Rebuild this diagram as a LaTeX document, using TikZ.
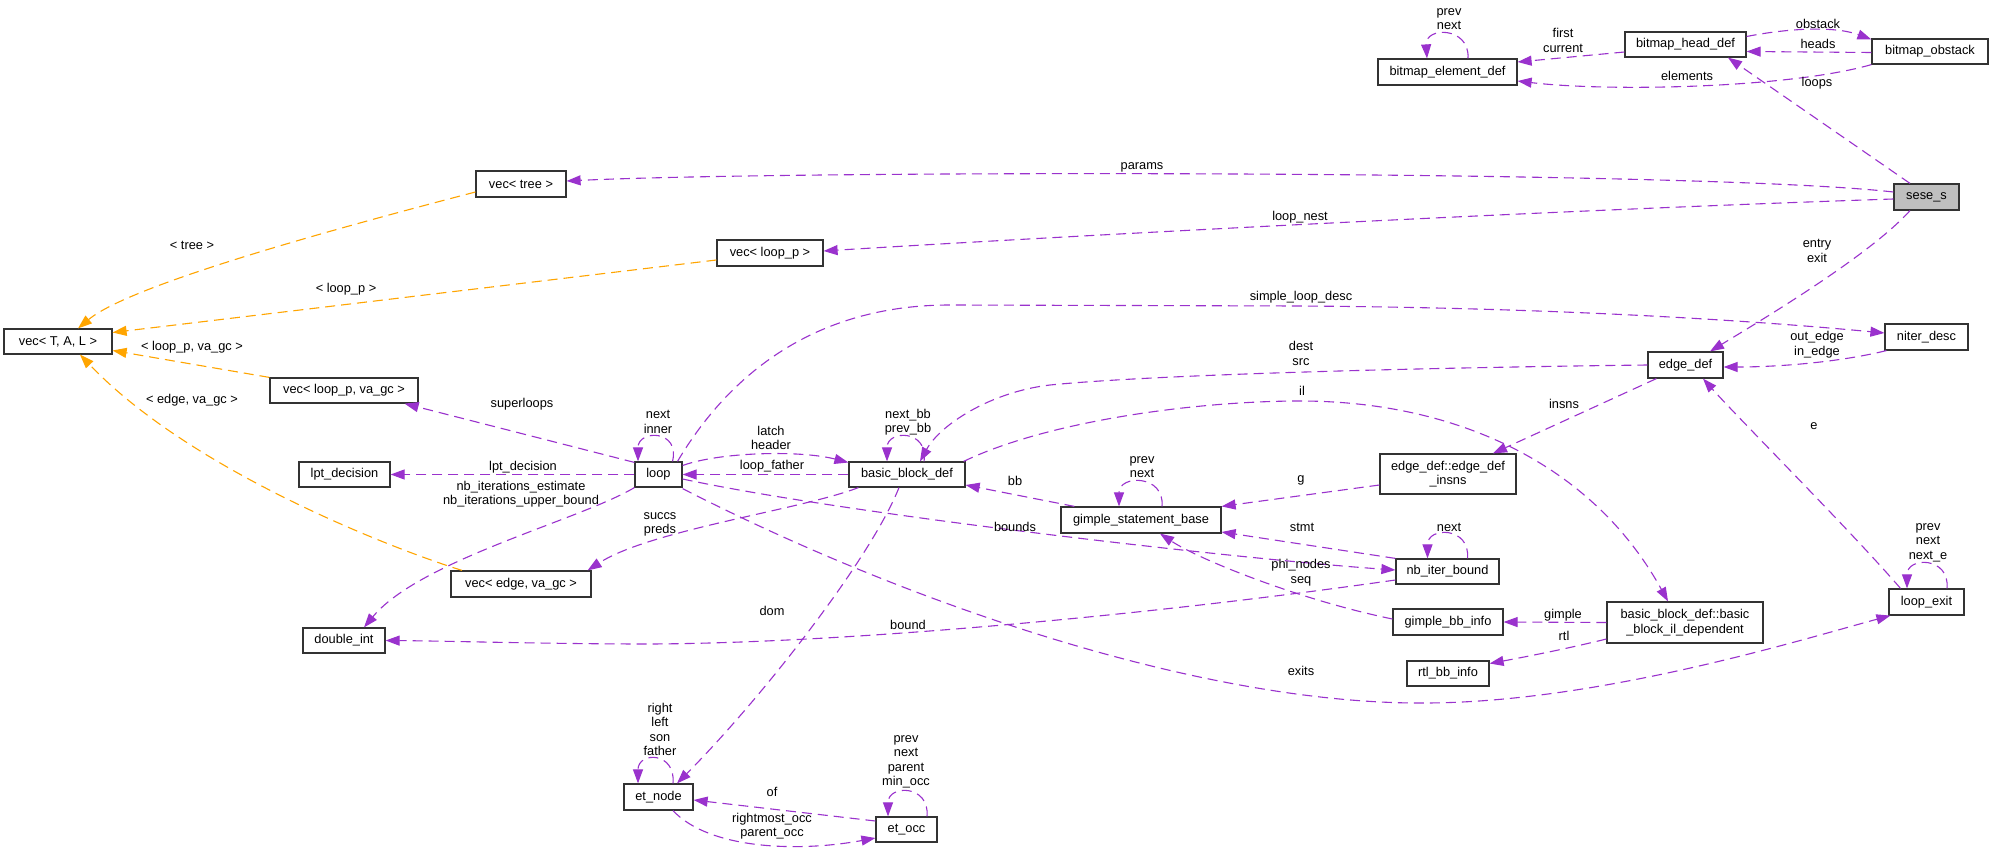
\documentclass[tikz,border=0pt]{standalone}
\usepackage{fontspec}
\setmainfont{Liberation Sans}
\usetikzlibrary{arrows.meta,calc}
\definecolor{usec}{HTML}{9A32CD}
\definecolor{tmplc}{HTML}{FFA500}
\definecolor{selc}{HTML}{BFBFBF}
\definecolor{boxc}{HTML}{333333}
\newcommand{\dgfont}{\fontsize{12.8}{14.5}\selectfont}
\begin{document}
\begin{tikzpicture}[x=1pt,y=-1pt,
  cls/.style={draw=boxc, line width=1.2pt, fill=white, inner sep=0pt, align=center, font=\dgfont},
  lbl/.style={inner sep=0pt, align=center, font=\dgfont},
  use/.style={draw=usec, line width=1.1pt, dash pattern=on 10pt off 6pt, -{Triangle[length=14pt,width=10pt]}},
  tpl/.style={use, draw=tmplc},
]
\fill[white] (0,0) rectangle (1989,856);
\useasboundingbox (0,0) rectangle (1989,856);

% nodes
\node[cls,minimum width=139pt,minimum height=26pt] (bed) at (1447.5,72) {bitmap\_element\_def};
\node[cls,minimum width=121pt,minimum height=25pt] (bhd) at (1685.5,44.5) {bitmap\_head\_def};
\node[cls,minimum width=116pt,minimum height=25pt] (bob) at (1930,51.5) {bitmap\_obstack};
\node[cls,fill=selc,minimum width=65pt,minimum height=26pt] (sese) at (1926.5,197) {sese\_s};
\node[cls,minimum width=90pt,minimum height=26pt] (vtree) at (521,184) {vec< tree >};
\node[cls,minimum width=108pt,minimum height=25pt] (vtal) at (58,341.5) {vec< T, A, L >};
\node[cls,minimum width=148pt,minimum height=25pt] (vlpgc) at (344,390.5) {vec< loop\_p, va\_gc >};
\node[cls,minimum width=106pt,minimum height=26pt] (vlp) at (770,253) {vec< loop\_p >};
\node[cls,minimum width=47pt,minimum height=25pt] (loop) at (658.5,474.5) {loop};
\node[cls,minimum width=116pt,minimum height=25pt] (bbd) at (907,474.5) {basic\_block\_def};
\node[cls,minimum width=91pt,minimum height=25pt] (lpt) at (344.5,474.5) {lpt\_decision};
\node[cls,minimum width=140pt,minimum height=26pt] (vegc) at (521,584) {vec< edge, va\_gc >};
\node[cls,minimum width=82pt,minimum height=25pt] (dint) at (344,640.5) {double\_int};
\node[cls,minimum width=160pt,minimum height=26pt] (gsb) at (1141,520) {gimple\_statement\_base};
\node[cls,minimum width=136pt,minimum height=40pt] (edi) at (1448,474) {edge\_def::edge\_def\\\_insns};
\node[cls,minimum width=103pt,minimum height=25pt] (nib) at (1447.5,571.5) {nb\_iter\_bound};
\node[cls,minimum width=110pt,minimum height=26pt] (gbi) at (1448,622) {gimple\_bb\_info};
\node[cls,minimum width=156pt,minimum height=41pt] (bbil) at (1685,622.5) {basic\_block\_def::basic\\\_block\_il\_dependent};
\node[cls,minimum width=75pt,minimum height=26pt] (lex) at (1926.5,602) {loop\_exit};
\node[cls,minimum width=82pt,minimum height=25pt] (rbi) at (1448,673.5) {rtl\_bb\_info};
\node[cls,minimum width=83pt,minimum height=26pt] (nid) at (1926.5,337) {niter\_desc};
\node[cls,minimum width=75pt,minimum height=26pt] (edef) at (1685.5,365) {edge\_def};
\node[cls,minimum width=69pt,minimum height=26pt] (etn) at (658.5,797) {et\_node};
\node[cls,minimum width=61pt,minimum height=25pt] (eto) at (906.5,829.5) {et\_occ};

% bitmap cluster
\draw[use] ($(bed.north)+(20.5,0)$) .. controls +(2,-32) and +(-2,-32) .. ($(bed.north)+(-20.5,0)$);
\node[lbl] (l1) at (1449,19) {prev\\next};
\draw[use] ($(bhd.west)+(0,7.5)$) -- ($(bed.east)+(0,-10)$);
\node[lbl] (l2) at (1563,40.5) {first\\current};
\draw[use] ($(bhd.east)+(0,-8)$) .. controls (1790,28) and (1835,26) .. ($(bob.west)+(0,-12)$);
\node[lbl] (l3) at (1818,24) {obstack};
\draw[use] ($(bob.west)+(0,1)$) -- ($(bhd.east)+(0,7)$);
\node[lbl] (l4) at (1818,44) {heads};
\draw[use] (bob.south west) .. controls (1790,88) and (1610,92) .. ($(bed.east)+(0,9)$);
\node[lbl] (l5) at (1687,76) {elements};
\draw[use] ($(sese.north)+(-16.5,0)$) -- ($(bhd.south)+(42.5,0)$);
\node[lbl] (l6) at (1817,83) {loops};

% sese_s
\draw[use] ($(sese.west)+(0,-5)$) .. controls (1700,170) and (800,170) .. ($(vtree.east)+(0,-3)$);
\node[lbl] (l7) at (1142,167) {params};
\draw[use] ($(sese.west)+(0,2)$) .. controls (1500,212) and (1000,240) .. ($(vlp.east)+(0,-2)$);
\node[lbl] (l8) at (1300,217) {loop\_nest};
\draw[use] ($(sese.south)+(-16.5,0)$) .. controls (1870,255) and (1765,318) .. ($(edef.north)+(24.5,0)$);
\node[lbl] (l9) at (1817,251) {entry\\exit};

% template instances
\draw[tpl] ($(vtree.west)+(0,8)$) .. controls (330,230) and (130,285) .. ($(vtal.north)+(20,0)$);
\node[lbl] (l10) at (192,245) {< tree >};
\draw[tpl] ($(vlp.west)+(0,7)$) -- ($(vtal.east)+(0,-9)$);
\node[lbl] (l11) at (346,289) {< loop\_p >};
\draw[tpl] (vlpgc.north west) -- ($(vtal.east)+(0,9)$);
\node[lbl] (l12) at (192,347) {< loop\_p, va\_gc >};
\draw[tpl] ($(vegc.north)+(-59,0)$) .. controls (390,548) and (190,470) .. ($(vtal.south)+(22,0)$);
\node[lbl] (l13) at (192,400) {< edge, va\_gc >};

% loop
\draw[use] ($(loop.north)+(19,0)$) .. controls (720,390) and (800,305) .. (950,305) -- (1300,306) .. controls (1600,308) and (1800,325) .. ($(nid.west)+(0,-4)$);
\node[lbl] (l14) at (1301,297) {simple\_loop\_desc};
\draw[use] ($(nid.south west)+(2,0)$) .. controls (1840,362) and (1780,367) .. ($(edef.east)+(0,2)$);
\node[lbl] (l15) at (1817,344.5) {out\_edge\\in\_edge};
\draw[use] (edef.west) .. controls (1400,368) and (1150,375) .. (1050,385) .. controls (990,392) and (940,425) .. ($(bbd.north)+(13,0)$);
\node[lbl] (l16) at (1301,353.5) {dest\\src};
\draw[use] ($(loop.north west)+(0,1)$) -- ($(vlpgc.south east)+(-14,0)$);
\node[lbl] (l17) at (522,404) {superloops};
\draw[use] ($(loop.north)+(14,0)$) .. controls +(8,-32) and +(0,-32) .. ($(loop.north)+(-20.5,0)$);
\node[lbl] (l18) at (658,422) {next\\inner};
\draw[use] ($(loop.east)+(0,-9)$) .. controls (720,452) and (800,450) .. ($(bbd.west)+(0,-12)$);
\node[lbl] (l19) at (771,438) {latch\\header};
\draw[use] (bbd.west) -- (loop.east);
\node[lbl] (l20) at (772,466) {loop\_father};
\draw[use] ($(bbd.north)+(17,0)$) .. controls +(5,-32) and +(0,-32) .. ($(bbd.north)+(-20,0)$);
\node[lbl] (l21) at (908,422) {next\_bb\\prev\_bb};
\draw[use] ($(bbd.north east)+(-2,0)$) .. controls (1050,420) and (1200,401) .. (1300,401) .. controls (1450,401) and (1590,460) .. ($(bbil.north)+(-17,0)$);
\node[lbl] (l22) at (1302,391) {il};
\draw[use] ($(edef.south west)+(9,0)$) -- ($(edi.north)+(45,0)$);
\node[lbl] (l23) at (1564,404) {insns};
\draw[use] (loop.west) -- (lpt.east);
\node[lbl] (l24) at (523,467) {lpt\_decision};
\draw[use] (loop.south west) .. controls (580,520) and (420,560) .. ($(dint.north)+(20,0)$);
\node[lbl] (l25) at (521,494) {nb\_iterations\_estimate\\nb\_iterations\_upper\_bound};
\draw[use] ($(bbd.south west)+(10,0)$) .. controls (800,510) and (650,530) .. ($(vegc.north east)+(-4,0)$);
\node[lbl] (l26) at (660,524.5) {succs\\preds};

% gimple
\draw[use] ($(gsb.north west)+(14,0)$) -- ($(bbd.east)+(0,10.5)$);
\node[lbl] (l27) at (1015,481) {bb};
\draw[use] ($(gsb.north)+(21,0)$) .. controls +(3,-32) and +(0,-32) .. ($(gsb.north)+(-22,0)$);
\node[lbl] (l28) at (1142,467) {prev\\next};
\draw[use] ($(edi.west)+(0,11)$) -- (gsb.north east);
\node[lbl] (l29) at (1301,480) {g};
\draw[use] ($(loop.east)+(0,4.5)$) .. controls (850,515) and (1250,560) .. ($(nib.west)+(0,-1.5)$);
\node[lbl] (l30) at (1015,527) {bounds};
\draw[use] (nib.north west) -- ($(gsb.east)+(0,12)$);
\node[lbl] (l31) at (1302,527) {stmt};
\draw[use] ($(nib.north)+(20,0)$) .. controls +(3,-32) and +(0,-32) .. ($(nib.north)+(-20,0)$);
\node[lbl] (l32) at (1449,527) {next};
\draw[use] ($(gbi.west)+(0,-3)$) .. controls (1300,600) and (1200,560) .. ($(gsb.south)+(19,0)$);
\node[lbl] (l33) at (1301,572.5) {phi\_nodes\\seq};
\draw[use] ($(nib.west)+(0,8.5)$) .. controls (1150,615) and (850,643) .. (650,644) .. controls (550,644) and (450,641) .. (dint.east);
\node[lbl] (l34) at (908,625) {bound};

% et
\draw[use] ($(bbd.south)+(-8,0)$) .. controls (870,560) and (760,700) .. ($(etn.north)+(18.5,0)$);
\node[lbl] (l35) at (772,611) {dom};
\draw[use] ($(etn.north)+(14.5,0)$) .. controls +(3,-32) and +(0,-32) .. ($(etn.north)+(-20.5,0)$);
\node[lbl] (l36) at (660,729.5) {right\\left\\son\\father};
\draw[use] ($(eto.west)+(0,-8.5)$) -- ($(etn.east)+(0,3)$);
\node[lbl] (l37) at (772,792) {of};
\draw[use] ($(etn.south)+(14.5,0)$) .. controls (710,850) and (800,852) .. ($(eto.west)+(0,8.5)$);
\node[lbl] (l38) at (772,826) {rightmost\_occ\\parent\_occ};
\draw[use] ($(eto.north)+(20.5,0)$) .. controls +(3,-32) and +(0,-32) .. ($(eto.north)+(-18.5,0)$);
\node[lbl] (l39) at (906,762) {prev\\next\\parent\\min\_occ};

% il dependent
\draw[use] (bbil.west) -- (gbi.east);
\node[lbl] (l40) at (1563,615) {gimple};
\draw[use] ($(bbil.west)+(0,16.5)$) .. controls (1570,648) and (1530,656) .. ($(rbi.east)+(0,-10)$);
\node[lbl] (l41) at (1564,636) {rtl};

% loop exit
\draw[use] ($(loop.south east)+(0,1)$) .. controls (900,600) and (1200,705) .. (1427,703) .. controls (1600,702) and (1800,640) .. ($(lex.south west)+(2,0)$);
\node[lbl] (l42) at (1301,671) {exits};
\draw[use] ($(lex.north)+(-26,0)$) .. controls (1850,530) and (1740,420) .. ($(edef.south)+(17.5,0)$);
\node[lbl] (l43) at (1814,426) {e};
\draw[use] ($(lex.north)+(20.5,0)$) .. controls +(3,-32) and +(0,-32) .. ($(lex.north)+(-19.5,0)$);
\node[lbl] (l44) at (1928,542.5) {prev\\next\\next\_e};
\end{tikzpicture}
\end{document}
